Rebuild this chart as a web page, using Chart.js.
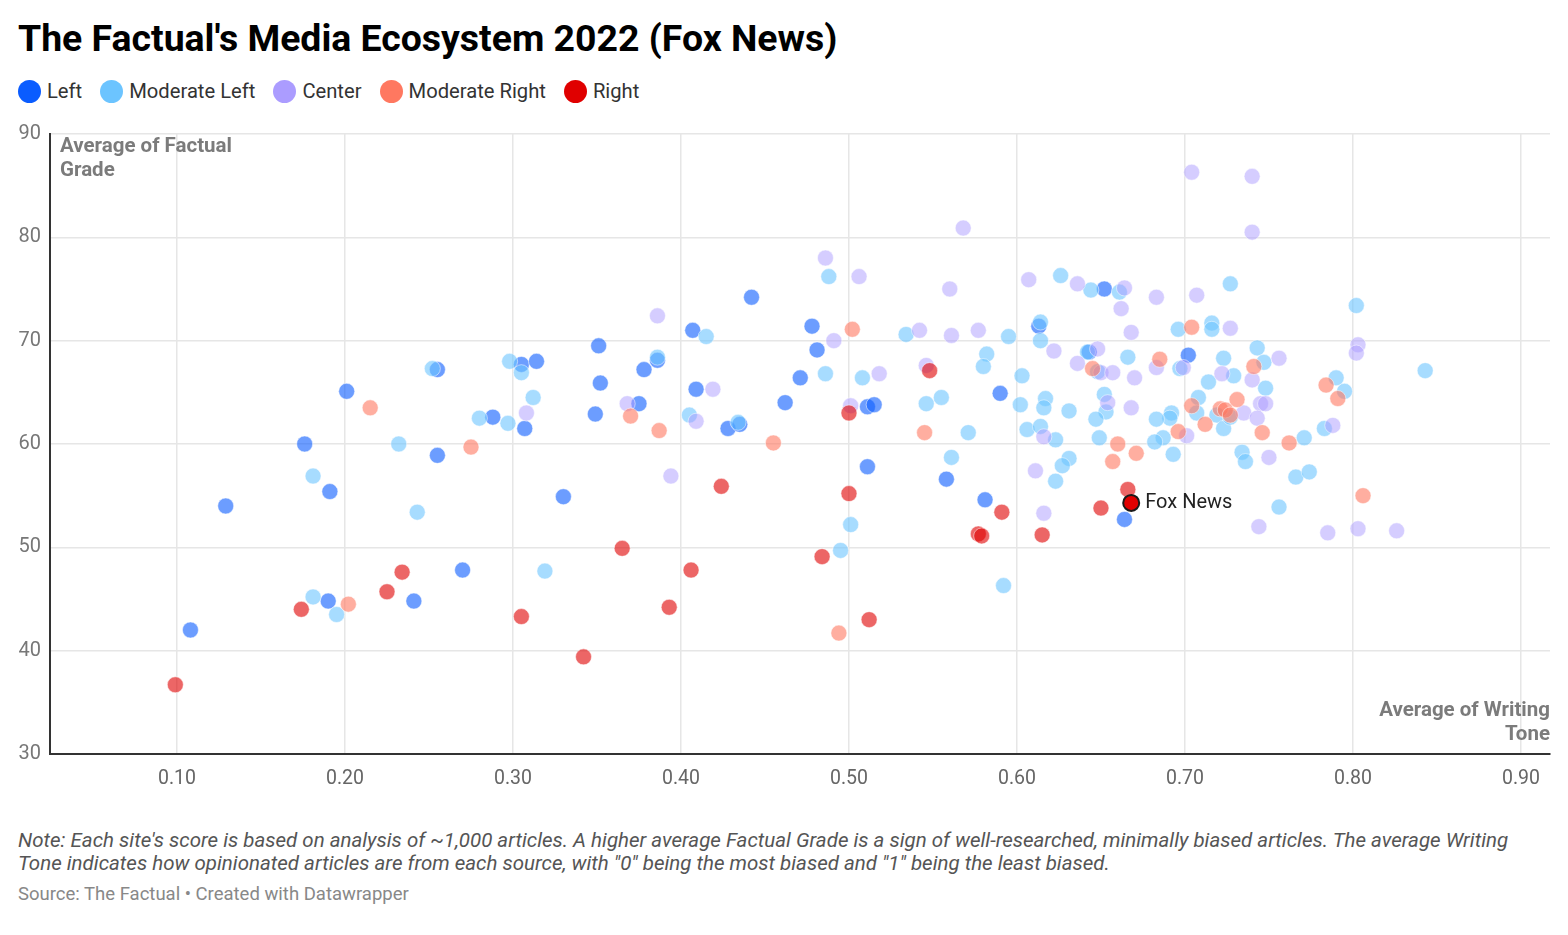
<!DOCTYPE html>
<html>
<head>
<meta charset="utf-8">
<script src="https://cdn.jsdelivr.net/npm/chart.js@4.4.1/dist/chart.umd.min.js"></script>
<style>
  body { margin:0; background:#fff; font-family:Roboto, "Noto Sans", sans-serif; width:1568px; height:935px; position:relative; overflow:hidden; }
  h1 { position:absolute; left:18px; top:16px; margin:0; font-size:37.4px; font-weight:700; color:#000; }
  #legend { position:absolute; left:18px; top:79px; display:flex; align-items:center; font-size:20.2px; color:#333; }
  #legend .item { display:flex; align-items:center; margin-right:18px; }
  #legend .dot { width:23px; height:23px; border-radius:50%; margin-right:6px; }
  #wrap { position:absolute; left:0; top:100px; width:1568px; height:694px; }
  .note { position:absolute; left:18px; top:829px; width:1540px; font-size:20.5px; font-style:italic; color:#555; line-height:23px; white-space:nowrap; }
  .source { position:absolute; left:18px; top:883px; font-size:18.5px; color:#888; }
</style>
</head>
<body>
<h1>The Factual's Media Ecosystem 2022 (Fox News)</h1>
<div id="legend"></div>
<div id="wrap"><canvas id="chart"></canvas></div>
<div class="note">Note: Each site's score is based on analysis of ~1,000 articles. A higher average Factual Grade is a sign of well-researched, minimally biased articles. The average Writing<br>Tone indicates how opinionated articles are from each source, with "0" being the most biased and "1" being the least biased.</div>
<div class="source">Source: The Factual • Created with Datawrapper</div>
<script>
// [writing tone, factual grade]
const leftPoints = [
  [0.108,42.0],[0.129,54.0],[0.176,60.0],[0.191,55.4],[0.201,65.1],[0.190,44.8],[0.241,44.8],
  [0.255,58.9],[0.255,67.2],[0.270,47.8],[0.288,62.6],[0.305,67.7],[0.314,68.0],[0.307,61.5],
  [0.330,54.9],[0.351,69.5],[0.352,65.9],[0.349,62.9],[0.375,63.9],[0.378,67.2],[0.386,68.1],
  [0.407,71.0],[0.409,65.3],[0.428,61.5],[0.435,61.9],[0.442,74.2],[0.462,64.0],[0.471,66.4],
  [0.478,71.4],[0.481,69.1],[0.511,63.6],[0.515,63.8],[0.511,57.8],[0.558,56.6],[0.581,54.6],
  [0.590,64.9],[0.613,71.4],[0.643,68.9],[0.652,75.0],[0.702,68.6],[0.664,52.7]
]
const modLeftPoints = [
  [0.181,56.9],[0.181,45.2],[0.195,43.5],[0.232,60.0],[0.243,53.4],[0.252,67.3],[0.280,62.5],
  [0.297,62.0],[0.298,68.0],[0.305,66.9],[0.312,64.5],[0.319,47.7],[0.386,68.4],[0.405,62.8],
  [0.415,70.4],[0.434,62.1],[0.486,66.8],[0.488,76.2],[0.508,66.4],[0.534,70.6],[0.501,52.2],
  [0.495,49.7],[0.546,63.9],[0.555,64.5],[0.571,61.1],[0.582,68.7],[0.580,67.5],[0.595,70.4],
  [0.603,66.6],[0.602,63.8],[0.606,61.4],[0.614,71.8],[0.614,70.0],[0.617,64.4],[0.616,63.5],
  [0.614,61.7],[0.626,76.3],[0.631,63.2],[0.623,60.4],[0.644,74.9],[0.661,74.7],[0.642,68.9],
  [0.648,67.0],[0.666,68.4],[0.652,64.8],[0.653,63.1],[0.647,62.4],[0.649,60.6],[0.561,58.7],
  [0.631,58.6],[0.627,57.9],[0.623,56.4],[0.592,46.3],[0.696,71.1],[0.716,71.7],[0.716,71.1],
  [0.727,75.5],[0.697,67.3],[0.723,68.3],[0.729,66.6],[0.714,66.0],[0.743,69.3],[0.747,67.9],
  [0.748,65.4],[0.708,64.5],[0.707,63.0],[0.692,63.0],[0.691,62.5],[0.683,62.4],[0.719,62.8],
  [0.723,61.5],[0.727,62.6],[0.687,60.6],[0.682,60.2],[0.771,60.6],[0.790,66.4],[0.795,65.1],
  [0.783,61.5],[0.693,59.0],[0.734,59.2],[0.736,58.3],[0.766,56.8],[0.774,57.3],[0.756,53.9],
  [0.802,73.4],[0.843,67.1]
]
const centerPoints = [
  [0.308,63.0],[0.368,63.9],[0.386,72.4],[0.409,62.2],[0.419,65.3],[0.486,78.0],[0.506,76.2],
  [0.491,70.0],[0.518,66.8],[0.542,71.0],[0.501,63.7],[0.546,67.6],[0.394,56.9],[0.568,80.9],
  [0.560,75.0],[0.561,70.5],[0.577,71.0],[0.607,75.9],[0.636,75.5],[0.664,75.1],[0.662,73.1],
  [0.668,70.8],[0.622,69.0],[0.636,67.8],[0.648,69.2],[0.650,66.9],[0.657,66.9],[0.670,66.4],
  [0.654,64.0],[0.668,63.5],[0.616,60.7],[0.611,57.4],[0.616,53.3],[0.704,86.3],[0.740,85.9],
  [0.740,80.5],[0.683,74.2],[0.707,74.4],[0.727,71.2],[0.683,67.4],[0.699,67.4],[0.722,66.8],
  [0.740,66.2],[0.756,68.3],[0.745,63.9],[0.748,63.9],[0.735,63.0],[0.743,62.5],[0.701,60.8],
  [0.788,61.8],[0.750,58.7],[0.744,52.0],[0.785,51.4],[0.803,69.6],[0.802,68.8],[0.803,51.8],
  [0.826,51.6]
]
const modRightPoints = [
  [0.215,63.5],[0.275,59.7],[0.370,62.7],[0.202,44.5],[0.387,61.3],[0.455,60.1],[0.502,71.1],
  [0.545,61.1],[0.494,41.7],[0.645,67.3],[0.660,60.0],[0.657,58.3],[0.671,59.1],[0.704,71.3],
  [0.685,68.2],[0.741,67.5],[0.704,63.7],[0.731,64.3],[0.721,63.4],[0.724,63.3],[0.727,62.8],
  [0.712,61.9],[0.696,61.2],[0.746,61.1],[0.762,60.1],[0.784,65.7],[0.791,64.4],[0.806,55.0]
]
const rightPoints = [
  [0.099,36.7],[0.174,44.0],[0.225,45.7],[0.234,47.6],[0.305,43.3],[0.342,39.4],[0.365,49.9],
  [0.393,44.2],[0.406,47.8],[0.424,55.9],[0.484,49.1],[0.500,55.2],[0.512,43.0],[0.500,63.0],
  [0.548,67.1],[0.577,51.3],[0.579,51.1],[0.591,53.4],[0.615,51.2],[0.650,53.8],[0.666,55.6]
]
const foxNews = [0.668, 54.3]

const seriesNames = ['Left', 'Moderate Left', 'Center', 'Moderate Right', 'Right']
const seriesColors = ['#0a5cff', '#6cc4ff', '#ab9cff', '#ff7860', '#e00000']
const seriesData = [leftPoints, modLeftPoints, centerPoints, modRightPoints, rightPoints]
const xTickValues = [0.1, 0.2, 0.3, 0.4, 0.5, 0.6, 0.7, 0.8, 0.9]
const yTickValues = [30, 40, 50, 60, 70, 80, 90]

const legendEl = document.getElementById('legend')
seriesNames.forEach((name, i) => {
  let item = document.createElement('div')
  item.className = 'item'
  item.innerHTML = `<span class="dot" style="background:${seriesColors[i]}"></span><span>${name}</span>`
  legendEl.appendChild(item)
})

const alpha = (hex, a) => {
  let n = parseInt(hex.slice(1), 16)
  return `rgba(${n >> 16},${(n >> 8) & 255},${n & 255},${a})`
}

const datasets = seriesData.map((pts, i) => ({
  label: seriesNames[i],
  data: pts.map(p => ({ x: p[0], y: p[1] })),
  backgroundColor: alpha(seriesColors[i], i == 2 ? 0.5 : 0.6),
  borderColor: 'rgba(255,255,255,0.5)',
  borderWidth: 1,
  pointRadius: 8,
  order: 5 - i,
}))
datasets.push({
  label: 'Fox News',
  data: [{ x: foxNews[0], y: foxNews[1] }],
  backgroundColor: '#e00000',
  borderColor: '#1a1a1a',
  borderWidth: 2,
  pointRadius: 8,
  order: -1,
})

const annotations = {
  id: 'annotations',
  afterDatasetsDraw(chart) {
    const { ctx, chartArea } = chart
    ctx.save()
    // axis titles inside the plot
    ctx.fillStyle = '#7b7b7b'
    ctx.font = 'bold 20.5px Roboto'
    ctx.textBaseline = 'middle'
    ctx.textAlign = 'left'
    ctx.fillText('Average of Factual', chartArea.left + 10, chartArea.top + 13)
    ctx.fillText('Grade', chartArea.left + 10, chartArea.top + 37)
    ctx.textAlign = 'right'
    ctx.fillText('Average of Writing', chartArea.right, chartArea.bottom - 43)
    ctx.fillText('Tone', chartArea.right, chartArea.bottom - 19)
    // Fox News label
    let meta = chart.getDatasetMeta(chart.data.datasets.length - 1)
    let pt = meta.data[0]
    ctx.fillStyle = '#222'
    ctx.font = '20px Roboto'
    ctx.textAlign = 'left'
    ctx.fillText('Fox News', pt.x + 14, pt.y)
    ctx.restore()
  }
}

new Chart(document.getElementById('chart'), {
  type: 'scatter',
  data: { datasets },
  options: {
    responsive: true,
    maintainAspectRatio: false,
    animation: false,
    events: [],
    layout: { padding: { top: 34, right: 18, left: 0, bottom: 0 } },
    plugins: { legend: { display: false }, tooltip: { enabled: false } },
    scales: {
      x: {
        type: 'linear',
        min: 0.0244,
        max: 0.9173,
        afterBuildTicks: s => { s.ticks = xTickValues.map(v => ({ value: v })) },
        afterFit: s => { s.height = 40 },
        ticks: { callback: v => v.toFixed(2), color: '#666', font: { size: 19.5, family: 'Roboto' }, padding: 13 },
        grid: { color: '#e6e6e6', lineWidth: 1.5, drawTicks: false },
        border: { color: '#333', width: 2 },
      },
      y: {
        min: 30,
        max: 90,
        afterBuildTicks: s => { s.ticks = yTickValues.map(v => ({ value: v })) },
        afterFit: s => { s.width = 50 },
        ticks: { color: '#777', font: { size: 20, family: 'Roboto' }, padding: 9 },
        grid: { color: '#e6e6e6', lineWidth: 1.5, drawTicks: false },
        border: { color: '#333', width: 2 },
      }
    }
  },
  plugins: [annotations]
})
</script>
</body>
</html>
